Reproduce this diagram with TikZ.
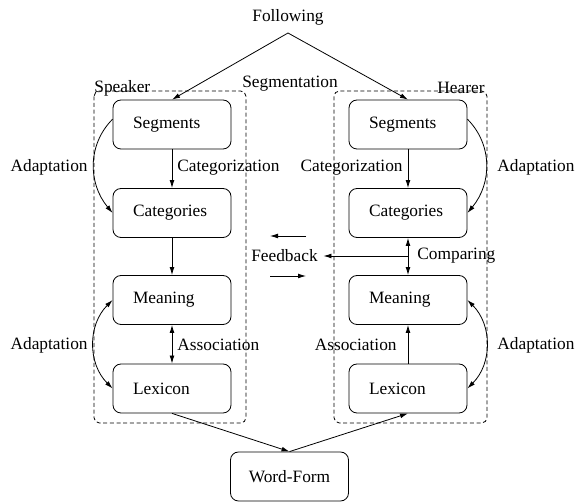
\documentclass[tikz,border=0pt]{standalone}
\usepackage{fontspec}
\IfFontExistsTF{LiberationSerif-Regular.ttf}{\setmainfont{LiberationSerif-Regular.ttf}}{\setmainfont{Liberation Serif}}
\usetikzlibrary{arrows.meta}
\tikzset{
  blk/.style={draw,rounded corners=6pt,minimum width=88.5pt,minimum height=36.75pt,text width=58.5pt,inner xsep=15pt,inner ysep=0pt,align=left},
  grp/.style={draw,dash pattern=on 3pt off 2pt,rounded corners=4pt},
  lbl/.style={inner sep=0.75pt},
}
\begin{document}
\begin{tikzpicture}[x=0.75pt,y=0.75pt,yscale=-1,xscale=1,line width=0.6pt,>={Latex[length=6pt,width=3.6pt]},font=\rmfamily\fontsize{13}{15}\selectfont]
    \useasboundingbox (0,0) rectangle (576,502);
    %Shape: Rectangle [speaker group]
    \draw[grp]   (94,91) rectangle (246,423) ;
    %Shape: Rectangle [hearer group]
    \draw[grp]   (334,91) rectangle (487,423) ;
    % Boxes
    \node[blk] (lseg) at (172,124.5) {Segments};
    \node[blk] (lcat) at (172,213) {Categories};
    \node[blk] (lmea) at (172,300) {Meaning};
    \node[blk] (llex) at (172,388.5) {Lexicon};
    \node[blk] (rseg) at (408,124.5) {Segments};
    \node[blk] (rcat) at (408,213) {Categories};
    \node[blk] (rmea) at (408,300) {Meaning};
    \node[blk] (rlex) at (408,388.5) {Lexicon};
    \node[blk,align=center,inner xsep=0pt,text width=88.5pt] (wform) at (289.5,476.5) {Word-Form};
    % Text Node
    \node[lbl] (follow) at (288,17) {Following};
    \coordinate (apex) at (288,33);
    % Text Node
    \node[lbl] (segm) at (290,84) {Segmentation};
    % Text Node
    \node[lbl,anchor=west] (spk) at (93,88) {Speaker};
    % Text Node
    \node[lbl,anchor=east] (hrr) at (486,88) {Hearer};
    % Text Node
    \node[lbl,anchor=west] (lcatz) at (176,168) {Categorization};
    \node[lbl,anchor=east] (rcatz) at (404,168) {Categorization};
    % Text Node
    \node[lbl,anchor=east] (ladp1) at (89,167) {Adaptation};
    \node[lbl,anchor=west] (radp1) at (496,167) {Adaptation};
    \node[lbl,anchor=east] (ladp2) at (89,345) {Adaptation};
    \node[lbl,anchor=west] (radp2) at (496,345) {Adaptation};
    % Text Node
    \node[lbl,anchor=west] (lass) at (176,345) {Association};
    \node[lbl,anchor=east] (rass) at (398,345) {Association};
    % Text Node
    \node[lbl,anchor=west] (cmpr) at (416,256) {Comparing};
    \node[lbl,inner xsep=4pt] (feed) at (284.5,256) {Feedback};
    \coordinate (cmp) at (408,256);
    \coordinate (fbua) at (306,236);
    \coordinate (fbub) at (270,236);
    \coordinate (fbla) at (270,276);
    \coordinate (fblb) at (306,276);
    %Straight Lines
    \draw[->] (apex) -- (lseg.north) ;
    \draw[->] (apex) -- (rseg.north) ;
    \draw[->] (lseg) -- (lcat) ;
    \draw[->] (lcat) -- (lmea) ;
    \draw[<->] (lmea) -- (llex) ;
    \draw[->] (rseg) -- (rcat) ;
    \draw[<->] (rcat) -- (rmea) ;
    \draw[->] (rlex) -- (rmea) ;
    \draw[->] (cmp) -- (feed.east) ;
    \draw[->] (fbua) -- (fbub) ;
    \draw[->] (fbla) -- (fblb) ;
    \draw[->] (llex.south) -- (wform.north) ;
    \draw[->] (wform.north) -- (rlex.south) ;
    %Curve Lines
    \draw[->] ([yshift=-4pt]lseg.west) .. controls +(-25,25) and +(-25,-30) .. (lcat.west) ;
    \draw[<->] (lmea.west) .. controls +(-25,25) and +(-25,-25) .. (llex.west) ;
    \draw[->] ([yshift=-4pt]rseg.east) .. controls +(25,25) and +(25,-30) .. (rcat.east) ;
    \draw[<->] (rmea.east) .. controls +(25,25) and +(25,-25) .. (rlex.east) ;
\end{tikzpicture}
\end{document}
